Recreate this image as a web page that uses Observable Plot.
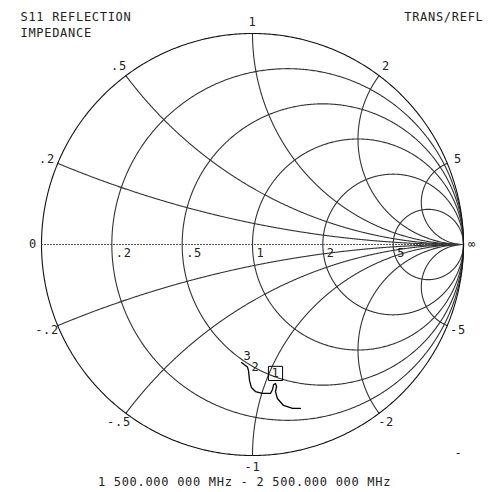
<!DOCTYPE html>
<html><head><meta charset="utf-8">
<script src="https://cdn.jsdelivr.net/npm/d3@7"></script>
<script src="https://cdn.jsdelivr.net/npm/@observablehq/plot@0.6"></script>
<style>html,body{margin:0;padding:0;background:#fff;} svg{display:block}</style>
</head><body><div id="chart"></div><script>
// Smith chart grid values
const resistanceValues = [0.2, 0.5, 1, 2, 5];
const resistanceLabels = [".2", ".5", "1", "2", "5"];
const reactanceValues = [0.2, 0.5, 1, 2, 5, -0.2, -0.5, -1, -2, -5];
const reactanceLabels = [".2", ".5", "1", "2", "5", "-.2", "-.5", "-1", "-2", "-5"];
const endLabels = ["0", "\u221e"];
const endRe = [-1, 1];

// S11 trace (reflection coefficient, real / imaginary)
const traceRe = [-0.052, -0.024, -0.019, -0.014, -0.005, 0.014, 0.047, 0.085, 0.095, 0.100, 0.109, 0.114, 0.109, 0.118, 0.147, 0.190, 0.227];
const traceIm = [-0.559, -0.581, -0.597, -0.645, -0.678, -0.697, -0.706, -0.706, -0.687, -0.664, -0.659, -0.673, -0.697, -0.730, -0.763, -0.777, -0.777];

// markers
const markerNames = ["1", "2", "3"];
const markerRe = [0.109, 0.014, -0.024];
const markerIm = [-0.611, -0.583, -0.531];

const titleLines = ["S11 REFLECTION", "IMPEDANCE"];
const rightTitle = "TRANS/REFL";
const footer = "1 500.000 000 MHz - 2 500.000 000 MHz";

// layout
const W = 492, H = 492, CX = 252, CY = 244, RAD = 211;

function gamma(r, x) {
  const d = (r + 1) * (r + 1) + x * x;
  return [(r * r + x * x - 1) / d, (2 * x) / d];
}

// constant resistance circles
const rPts = [];
for (const r of [0, ...resistanceValues]) {
  const c = r / (1 + r), rho = 1 / (1 + r);
  for (let i = 0; i <= 720; i++) {
    const a = (i / 720) * 2 * Math.PI;
    rPts.push({k: r, u: c + rho * Math.cos(a), v: rho * Math.sin(a)});
  }
}
// constant reactance arcs
const xPts = [];
for (const x of reactanceValues) {
  for (let i = 0; i < 600; i++) {
    const t = (i / 600) * Math.PI / 2;
    const [u, v] = gamma(Math.tan(t), x);
    xPts.push({k: x, u, v});
  }
  xPts.push({k: x, u: 1, v: 0});
}

const trace = traceRe.map((u, i) => ({u, v: traceIm[i]}));
const markers = markerNames.map((n, i) => ({n, u: markerRe[i], v: markerIm[i]}));
const rLab = resistanceValues.map((r, i) => ({t: resistanceLabels[i], u: (r - 1) / (r + 1), v: 0}));
const xLab = reactanceValues.map((x, i) => { const [u, v] = gamma(0, x); return {t: reactanceLabels[i], u: u * 1.055, v: v * 1.055}; });
const eLab = endLabels.map((t, i) => ({t, u: endRe[i] * 1.04, v: 0}));

const font = "DejaVu Sans Mono";
const plot = Plot.plot({
  width: W, height: H, margin: 0,
  x: {domain: [-CX / RAD, (W - CX) / RAD], range: [0, W], axis: null},
  y: {domain: [-(H - CY) / RAD, CY / RAD], range: [H, 0], axis: null},
  style: {fontFamily: font, fontSize: "12px", letterSpacing: "0.7px", background: "#fff", color: "#000"},
  marks: [
    Plot.line(rPts.filter(d => d.k > 0), {x: "u", y: "v", z: "k", stroke: "#333", strokeWidth: 1.1}),
    Plot.line(xPts, {x: "u", y: "v", z: "k", stroke: "#333", strokeWidth: 1.1}),
    Plot.line(rPts.filter(d => d.k === 0), {x: "u", y: "v", stroke: "#111", strokeWidth: 1.1}),
    Plot.line([{u: -1, v: 0}, {u: 1, v: 0}], {x: "u", y: "v", stroke: "#444", strokeWidth: 1, strokeDasharray: "1,2"}),
    Plot.line(trace, {x: "u", y: "v", stroke: "#000", strokeWidth: 1.3}),
    Plot.dot(markers.filter(d => d.n === "1"), {x: "u", y: "v", symbol: "square", r: 8, stroke: "#000", fill: "none", strokeWidth: 1}),
    Plot.text(markers, {x: "u", y: "v", text: "n", fill: "#222", textAnchor: "middle", lineAnchor: "middle"}),
    Plot.text(rLab, {x: "u", y: "v", text: "t", dx: 4, dy: 9, textAnchor: "start", lineAnchor: "middle", fill: "#222"}),
    Plot.text(xLab, {x: "u", y: "v", text: "t", textAnchor: "middle", lineAnchor: "middle", fill: "#222"}),
    Plot.text(eLab, {x: "u", y: "v", text: "t", textAnchor: "middle", lineAnchor: "middle", fill: "#222"}),
    Plot.text([titleLines[0]], {frameAnchor: "top-left", dx: 20, dy: 17, textAnchor: "start", lineAnchor: "middle", fill: "#222"}),
    Plot.text([titleLines[1]], {frameAnchor: "top-left", dx: 20, dy: 33, textAnchor: "start", lineAnchor: "middle", fill: "#222"}),
    Plot.text([rightTitle], {frameAnchor: "top-right", dx: -9, dy: 17, textAnchor: "end", lineAnchor: "middle", fill: "#222"}),
    Plot.text([footer], {frameAnchor: "bottom", dx: -2, dy: -10, textAnchor: "middle", lineAnchor: "middle", fill: "#222"}),
    Plot.text(["-"], {frameAnchor: "top-left", dx: 458, dy: 453, textAnchor: "middle", lineAnchor: "middle", fill: "#222"})
  ]
});
document.getElementById("chart").appendChild(plot);
</script></body></html>
